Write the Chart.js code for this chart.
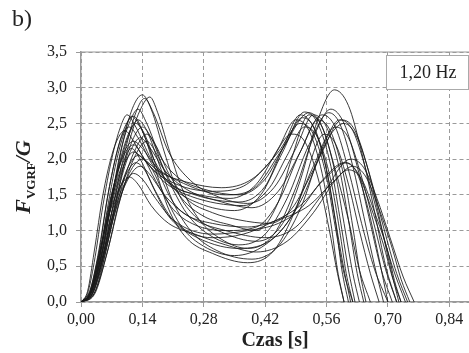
<!DOCTYPE html>
<html>
<head>
<meta charset="utf-8">
<script src="https://cdn.jsdelivr.net/npm/chart.js@4/dist/chart.umd.min.js"></script>
<style>
  html, body { margin: 0; padding: 0; background: #fff; }
  #wrap { width: 469px; height: 353px; position: relative; }
</style>
</head>
<body>
<div id="wrap"><canvas id="chart" width="469" height="353"></canvas></div>
<script>
// tick labels
const xTicks = [0, 0.14, 0.28, 0.42, 0.56, 0.70, 0.84];
const yTicks = [0, 0.5, 1.0, 1.5, 2.0, 2.5, 3.0, 3.5];
const freqLabel = '1,20 Hz';

// [czas s, F/G], one array per trial
const trial01 = [[0,0],[0.015,0.12],[0.03,0.55],[0.05,1.35],[0.07,2.0],[0.09,2.45],[0.105,2.62],[0.125,2.45],[0.16,2.0],[0.20,1.68],[0.26,1.5],[0.36,1.40],[0.42,1.62],[0.46,2.15],[0.50,2.62],[0.53,2.45],[0.56,1.85],[0.58,1.15],[0.595,0.45],[0.61,0]];
const trial02 = [[0,0],[0.02,0.15],[0.04,0.7],[0.06,1.45],[0.08,2.05],[0.095,2.35],[0.11,2.45],[0.13,2.3],[0.165,1.9],[0.21,1.62],[0.27,1.5],[0.34,1.45],[0.40,1.65],[0.45,2.15],[0.49,2.55],[0.52,2.4],[0.55,1.8],[0.57,1.1],[0.585,0.45],[0.60,0]];
const trial03 = [[0,0],[0.02,0.12],[0.04,0.55],[0.06,1.2],[0.08,1.75],[0.10,2.12],[0.12,2.25],[0.14,2.15],[0.17,1.9],[0.22,1.7],[0.33,1.5],[0.40,1.62],[0.46,2.15],[0.52,2.65],[0.55,2.45],[0.58,1.8],[0.60,1.1],[0.62,0.4],[0.635,0]];
const trial04 = [[0,0],[0.02,0.08],[0.045,0.5],[0.07,1.15],[0.09,1.6],[0.11,1.92],[0.13,2.05],[0.15,1.95],[0.19,1.68],[0.25,1.48],[0.37,1.35],[0.43,1.6],[0.47,2.05],[0.51,2.45],[0.54,2.3],[0.57,1.7],[0.59,1.0],[0.605,0.4],[0.62,0]];
const trial05 = [[0,0],[0.015,0.15],[0.03,0.7],[0.05,1.5],[0.07,2.05],[0.085,2.3],[0.10,2.4],[0.12,2.25],[0.15,1.95],[0.20,1.7],[0.30,1.55],[0.37,1.62],[0.43,1.95],[0.48,2.35],[0.51,2.25],[0.54,1.75],[0.565,1.05],[0.585,0.4],[0.60,0]];
const trial06 = [[0,0],[0.025,0.12],[0.05,0.65],[0.075,1.4],[0.10,2.1],[0.125,2.65],[0.145,2.85],[0.165,2.65],[0.20,2.1],[0.25,1.7],[0.31,1.48],[0.38,1.38],[0.44,1.6],[0.49,2.15],[0.53,2.62],[0.56,2.45],[0.59,1.85],[0.61,1.15],[0.63,0.4],[0.645,0]];
const trial07 = [[0,0],[0.02,0.1],[0.04,0.5],[0.06,1.1],[0.08,1.6],[0.10,1.95],[0.12,2.1],[0.14,2.02],[0.18,1.82],[0.24,1.68],[0.32,1.6],[0.39,1.72],[0.45,2.1],[0.50,2.5],[0.53,2.35],[0.56,1.75],[0.58,1.05],[0.60,0.4],[0.62,0]];
const trial08 = [[0,0],[0.025,0.1],[0.05,0.6],[0.075,1.3],[0.10,1.9],[0.12,2.2],[0.135,2.3],[0.155,2.18],[0.19,1.85],[0.24,1.58],[0.31,1.42],[0.39,1.32],[0.45,1.55],[0.50,2.1],[0.54,2.55],[0.57,2.38],[0.60,1.75],[0.62,1.05],[0.635,0.45],[0.65,0]];
const trial09 = [[0,0],[0.02,0.1],[0.04,0.55],[0.06,1.3],[0.08,1.95],[0.10,2.4],[0.115,2.6],[0.135,2.45],[0.17,1.95],[0.21,1.6],[0.27,1.38],[0.35,1.28],[0.41,1.5],[0.46,2.1],[0.51,2.66],[0.54,2.5],[0.57,1.9],[0.59,1.2],[0.61,0.45],[0.625,0]];
const trial10 = [[0,0],[0.02,0.1],[0.045,0.6],[0.07,1.45],[0.09,2.1],[0.11,2.5],[0.13,2.7],[0.15,2.5],[0.18,2.05],[0.22,1.75],[0.28,1.58],[0.36,1.5],[0.42,1.72],[0.465,2.2],[0.505,2.58],[0.535,2.4],[0.56,1.85],[0.58,1.15],[0.60,0.45],[0.615,0]];
const trial11 = [[0,0],[0.025,0.15],[0.05,0.75],[0.075,1.6],[0.10,2.35],[0.12,2.75],[0.14,2.9],[0.16,2.7],[0.19,2.1],[0.22,1.55],[0.26,1.2],[0.32,0.98],[0.40,0.85],[0.46,1.1],[0.50,1.7],[0.54,2.55],[0.578,2.97],[0.61,2.75],[0.64,2.1],[0.67,1.25],[0.695,0.5],[0.72,0]];
const trial12 = [[0,0],[0.03,0.12],[0.06,0.8],[0.09,1.7],[0.115,2.35],[0.14,2.75],[0.157,2.87],[0.175,2.65],[0.20,2.15],[0.23,1.6],[0.27,1.15],[0.32,0.88],[0.38,0.75],[0.44,0.95],[0.49,1.6],[0.53,2.3],[0.57,2.7],[0.60,2.5],[0.63,1.9],[0.66,1.1],[0.685,0.45],[0.71,0]];
const trial13 = [[0,0],[0.02,0.1],[0.045,0.6],[0.07,1.4],[0.09,1.95],[0.11,2.35],[0.13,2.55],[0.15,2.4],[0.18,1.9],[0.21,1.4],[0.25,1.0],[0.31,0.72],[0.39,0.6],[0.45,0.78],[0.50,1.3],[0.55,2.15],[0.59,2.55],[0.62,2.4],[0.65,1.85],[0.68,1.15],[0.71,0.5],[0.74,0]];
const trial14 = [[0,0],[0.02,0.12],[0.04,0.6],[0.06,1.25],[0.08,1.75],[0.10,2.08],[0.12,2.2],[0.14,2.05],[0.17,1.7],[0.21,1.3],[0.26,1.08],[0.33,1.0],[0.40,1.05],[0.45,1.4],[0.50,2.1],[0.55,2.62],[0.58,2.45],[0.61,1.85],[0.64,1.1],[0.67,0.45],[0.70,0]];
const trial15 = [[0,0],[0.02,0.1],[0.045,0.55],[0.07,1.15],[0.095,1.6],[0.12,1.8],[0.14,1.72],[0.17,1.45],[0.21,1.15],[0.30,0.95],[0.38,1.0],[0.45,1.1],[0.50,1.3],[0.55,1.7],[0.60,1.95],[0.63,1.82],[0.66,1.35],[0.69,0.8],[0.71,0.35],[0.73,0]];
const trial16 = [[0,0],[0.02,0.15],[0.04,0.65],[0.065,1.25],[0.09,1.62],[0.11,1.75],[0.13,1.65],[0.16,1.35],[0.20,1.1],[0.26,0.95],[0.33,0.8],[0.40,0.7],[0.47,0.85],[0.53,1.25],[0.58,1.7],[0.62,1.9],[0.65,1.75],[0.68,1.3],[0.71,0.75],[0.73,0.32],[0.75,0]];
const trial17 = [[0,0],[0.025,0.1],[0.05,0.55],[0.075,1.2],[0.10,1.75],[0.125,2.15],[0.15,2.35],[0.17,2.2],[0.20,1.8],[0.24,1.45],[0.30,1.25],[0.36,1.15],[0.43,1.1],[0.48,1.3],[0.53,1.85],[0.57,2.35],[0.60,2.5],[0.63,2.3],[0.66,1.75],[0.69,1.05],[0.72,0.4],[0.745,0]];
const trial18 = [[0,0],[0.03,0.1],[0.06,0.7],[0.085,1.35],[0.11,1.8],[0.14,2.0],[0.16,1.88],[0.19,1.5],[0.23,1.05],[0.28,0.78],[0.35,0.65],[0.42,0.8],[0.48,1.2],[0.53,1.9],[0.58,2.45],[0.61,2.3],[0.64,1.75],[0.67,1.05],[0.695,0.45],[0.72,0]];
const trial19 = [[0,0],[0.02,0.1],[0.04,0.55],[0.065,1.35],[0.09,2.0],[0.11,2.38],[0.125,2.5],[0.145,2.35],[0.175,1.85],[0.21,1.4],[0.26,1.15],[0.33,1.0],[0.42,0.9],[0.49,1.05],[0.55,1.5],[0.615,2.0],[0.645,1.88],[0.675,1.45],[0.705,0.9],[0.735,0.35],[0.76,0]];
const trial20 = [[0,0],[0.03,0.12],[0.06,0.7],[0.09,1.45],[0.12,2.0],[0.15,2.25],[0.17,2.1],[0.20,1.7],[0.24,1.25],[0.29,0.95],[0.36,0.8],[0.42,0.95],[0.47,1.45],[0.52,2.2],[0.565,2.65],[0.59,2.5],[0.62,1.9],[0.645,1.2],[0.67,0.5],[0.69,0]];
const trial21 = [[0,0],[0.025,0.1],[0.05,0.6],[0.08,1.3],[0.11,1.75],[0.135,1.9],[0.155,1.8],[0.19,1.5],[0.24,1.22],[0.30,1.1],[0.38,1.05],[0.45,1.15],[0.52,1.35],[0.57,1.65],[0.61,1.85],[0.64,1.72],[0.67,1.25],[0.70,0.7],[0.715,0.3],[0.73,0]];
const trial22 = [[0,0],[0.02,0.12],[0.04,0.65],[0.06,1.45],[0.08,2.05],[0.10,2.45],[0.12,2.6],[0.14,2.4],[0.17,1.85],[0.20,1.3],[0.24,0.9],[0.30,0.68],[0.38,0.55],[0.44,0.72],[0.49,1.3],[0.555,2.35],[0.58,2.22],[0.61,1.65],[0.635,1.0],[0.66,0.4],[0.68,0]];
const trial23 = [[0,0],[0.025,0.12],[0.05,0.65],[0.075,1.4],[0.10,1.95],[0.12,2.3],[0.14,2.45],[0.16,2.3],[0.19,1.85],[0.23,1.45],[0.28,1.2],[0.34,1.08],[0.40,1.0],[0.45,1.4],[0.48,2.0],[0.52,2.62],[0.55,2.45],[0.58,1.85],[0.61,1.15],[0.635,0.45],[0.66,0]];
const trial24 = [[0,0],[0.02,0.12],[0.04,0.6],[0.065,1.3],[0.09,1.85],[0.115,2.15],[0.135,2.0],[0.165,1.6],[0.20,1.2],[0.25,0.95],[0.36,0.75],[0.44,0.9],[0.50,1.4],[0.55,2.1],[0.595,2.55],[0.625,2.4],[0.655,1.85],[0.68,1.2],[0.705,0.5],[0.725,0]];
const trial25 = [[0,0],[0.02,0.1],[0.045,0.6],[0.07,1.25],[0.10,1.75],[0.125,1.95],[0.145,1.85],[0.17,1.55],[0.21,1.15],[0.30,0.9],[0.37,0.95],[0.43,1.1],[0.50,1.35],[0.56,1.75],[0.605,1.95],[0.63,1.8],[0.655,1.3],[0.675,0.75],[0.69,0.3],[0.70,0]];

const trials = [trial01, trial02, trial03, trial04, trial05, trial06, trial07, trial08, trial09, trial10,
  trial11, trial12, trial13, trial14, trial15, trial16, trial17, trial18, trial19, trial20,
  trial21, trial22, trial23, trial24, trial25];

const SERIF = '"Liberation Serif", "Times New Roman", serif';
const comma = (v, d) => v.toFixed(d).replace('.', ',');

const extras = {
  id: 'extras',
  afterDraw(chart) {
    const { ctx, chartArea } = chart;
    ctx.save();
    // top frame line
    ctx.strokeStyle = '#9a9a9a';
    ctx.lineWidth = 1.2;
    ctx.beginPath();
    ctx.moveTo(chartArea.left, chartArea.top);
    ctx.lineTo(chartArea.right, chartArea.top);
    ctx.stroke();

    // frequency box
    ctx.fillStyle = '#fff';
    ctx.fillRect(386, 55, 82, 34);
    ctx.strokeStyle = '#aaa';
    ctx.lineWidth = 1;
    ctx.strokeRect(386.5, 55.5, 82, 34);
    ctx.fillStyle = '#222';
    ctx.font = '18px ' + SERIF;
    ctx.textAlign = 'center';
    ctx.textBaseline = 'middle';
    ctx.fillText(freqLabel, 428, 73);

    // panel letter
    ctx.textAlign = 'left';
    ctx.textBaseline = 'alphabetic';
    ctx.font = '24px ' + SERIF;
    ctx.fillText('b)', 12, 26);

    // y title F_VGRF/G
    const big = 'italic bold 22px ' + SERIF;
    const sub = 'bold 13px ' + SERIF;
    ctx.font = big; const wF = ctx.measureText('F').width; const wG = ctx.measureText('/G').width;
    ctx.font = sub; const wS = ctx.measureText('VGRF').width;
    const total = wF + wS + wG;
    ctx.translate(30, (chartArea.top + chartArea.bottom) / 2);
    ctx.rotate(-Math.PI / 2);
    let x = -total / 2;
    ctx.font = big; ctx.fillText('F', x, 0); x += wF;
    ctx.font = sub; ctx.fillText('VGRF', x, 5); x += wS;
    ctx.font = big; ctx.fillText('/G', x, 0);
    ctx.restore();
  }
};

new Chart(document.getElementById('chart'), {
  type: 'line',
  data: {
    datasets: trials.map(tr => ({
      data: tr.map(p => ({ x: p[0], y: p[1] })),
      borderColor: 'rgba(25,25,25,0.85)',
      borderWidth: 1,
      pointRadius: 0,
      fill: false,
      cubicInterpolationMode: 'monotone',
    })),
  },
  options: {
    responsive: false,
    animation: false,
    layout: { padding: { top: 52, right: 0, bottom: 0, left: 0 } },
    plugins: { legend: { display: false }, tooltip: { enabled: false } },
    scales: {
      x: {
        type: 'linear',
        min: 0,
        max: 0.885,
        afterFit: s => { s.height = 51; },
        afterBuildTicks: s => { s.ticks = xTicks.map(v => ({ value: v })); },
        grid: { color: '#9a9a9a', lineWidth: 1, tickLength: 5, tickColor: '#9a9a9a' },
        border: { color: '#9a9a9a', width: 1.5, dash: [4, 3] },
        ticks: {
          color: '#222', font: { family: SERIF, size: 16 }, padding: 3, maxRotation: 0,
          callback: v => comma(v, 2),
        },
        title: {
          display: true, text: 'Czas [s]', color: '#222',
          font: { family: SERIF, size: 20, weight: 'bold' }, padding: { top: 0, bottom: 0 },
        },
      },
      y: {
        min: 0,
        max: 3.5,
        afterFit: s => { s.width = 81; },
        afterBuildTicks: s => { s.ticks = yTicks.map(v => ({ value: v })); },
        grid: { color: '#9a9a9a', lineWidth: 1, tickLength: 5, tickColor: '#9a9a9a' },
        border: { color: '#9a9a9a', width: 1.5, dash: [4, 3] },
        ticks: {
          color: '#222', font: { family: SERIF, size: 16 }, padding: 9,
          callback: v => comma(v, 1),
        },
      },
    },
  },
  plugins: [extras],
});
</script>
</body>
</html>
